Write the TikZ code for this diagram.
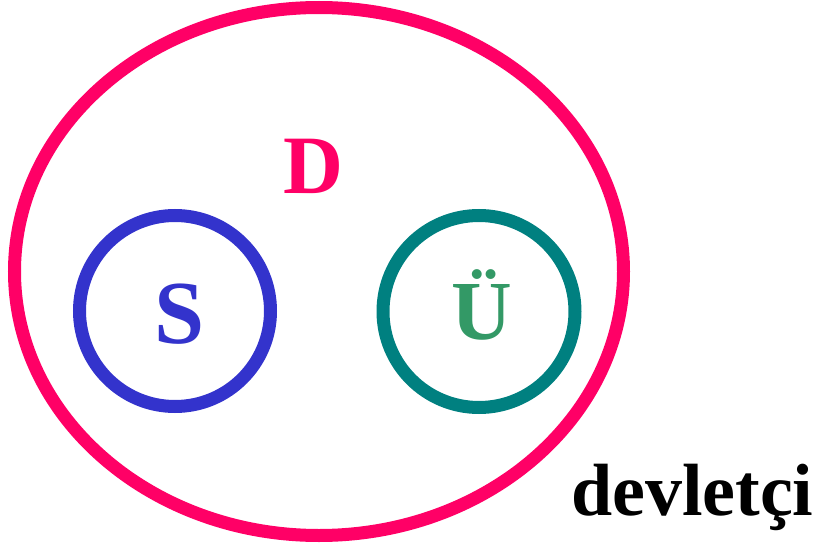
\documentclass[tikz,border=0pt]{standalone}
\usepackage{fontspec}
\setmainfont{Liberation Serif}
\usetikzlibrary{shapes.geometric}
\definecolor{outerpink}{HTML}{FF0066}
\definecolor{setblue}{HTML}{3333CC}
\definecolor{setteal}{HTML}{008080}
\definecolor{textgreen}{HTML}{339966}
\begin{document}
\begin{tikzpicture}[x=1pt,y=-1pt,
  ring/.style={draw, line width=13pt, inner sep=0pt, outer sep=0pt},
  lbl/.style={inner sep=0pt, outer sep=0pt, anchor=base, font=\bfseries}]
\useasboundingbox (0,0) rectangle (815,546);
\node[ring, ellipse, draw=outerpink, minimum width=609pt, minimum height=528pt] (D) at (319,271.5) {};
\node[ring, circle, draw=setblue, minimum size=191pt] (S) at (175,311) {};
\node[ring, circle, draw=setteal, minimum size=192pt] (U) at (479,311.5) {};
\node[lbl, text=outerpink, font=\fontsize{83}{90}\selectfont\bfseries] (Dl) at (313,193) {D};
\node[lbl, text=setblue, font=\fontsize{90}{96}\selectfont\bfseries] (Sl) at (180,343) {S};
\node[lbl, text=textgreen, font=\fontsize{84}{90}\selectfont\bfseries] (Ul) at (481.5,339) {Ü};
\node[lbl, anchor=base west, font=\fontsize{74}{80}\selectfont\bfseries] (dev) at (571,515) {devletçi};
\end{tikzpicture}
\end{document}
